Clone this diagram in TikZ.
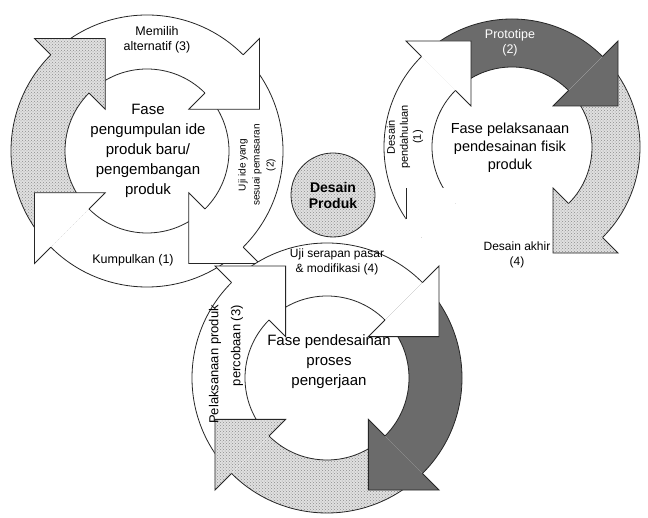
\documentclass[tikz,border=0pt]{standalone}
\usepackage{fontspec}
\setmainfont{Liberation Sans}
\usetikzlibrary{patterns}
\newcommand\segfill[3]{\fill[#3] (#1:\Ro) arc[start angle=#1,end angle=#2,radius=\Ro] -- (#2:\Ri) arc[start angle=#2,end angle=#1,radius=\Ri] -- cycle;}
\newcommand\segarcs[2]{\draw[ringline] (#1:\Ro) arc[start angle=#1,end angle=#2,radius=\Ro];\draw[ringline] (#1:\Ri) arc[start angle=#1,end angle=#2,radius=\Ri];}
\newcommand\tipcalc[1]{%
  \pgfmathsetmacro\Rm{(\Ro+\Ri)/2}%
  \pgfmathsetmacro\Bo{\Rm+\Hh}%
  \pgfmathsetmacro\Bi{\Rm-\Hh}%
  \pgfmathsetmacro\tx{\Rm*cos(#1)+\Hh*cos(#1-90)}%
  \pgfmathsetmacro\ty{\Rm*sin(#1)+\Hh*sin(#1-90)}%
  \coordinate (tip) at (\tx,\ty);}
\newcommand\seghead[2]{\tipcalc{#1}%
  \fill[#2] (#1:\Bo) -- (tip) -- (#1:\Bi) -- cycle;
  \draw[ringline] (#1:\Ro) -- (#1:\Bo) -- (tip) -- (#1:\Bi) -- (#1:\Ri);}
\begin{document}
\begin{tikzpicture}[x=1pt,y=1pt,
  ringline/.style={line width=0.8pt,black!85,line join=miter},
  whiteseg/.style={fill=white},
  darkseg/.style={fill=black!58},
  speckled/.style={preaction={fill=black!12},pattern=crosshatch dots,pattern color=black!45},
  lbl/.style={font=\fontsize{12.5}{15}\selectfont, align=center, inner sep=0pt},
  phase/.style={font=\fontsize{15}{20}\selectfont, align=center, inner sep=0pt}]
\useasboundingbox (0,0) rectangle (648,517);
\fill[white] (0,0) rectangle (648,517);

% ---------- cycle 1 ----------
\begin{scope}[shift={(147,366)}]
  \def\Ro{136}\def\Ri{82}\def\Hh{50}
  \segfill{135}{45}{whiteseg}
  \segfill{45}{-45}{whiteseg}
  \segfill{-45}{-135}{whiteseg}
  \segfill{225}{135}{speckled}
  \segarcs{135}{45}\segarcs{45}{-45}\segarcs{-45}{-135}\segarcs{225}{135}
  \seghead{45}{whiteseg}
  \seghead{-45}{whiteseg}
  \seghead{-135}{whiteseg}
  \seghead{135}{speckled}
\end{scope}

% ---------- cycle 2 ----------
\begin{scope}[shift={(512,370)}]
  \def\Ro{128}\def\Ri{80}\def\Hh{46}
  \segfill{135}{45}{darkseg}
  \segfill{45}{-45}{speckled}
  \segfill{225}{135}{whiteseg}
  \segarcs{135}{45}\segarcs{45}{-45}\segarcs{225}{135}
  \seghead{45}{darkseg}
  \seghead{-45}{speckled}
  \tipcalc{-135}
  \fill[white] (-135:\Bo) -- (tip) -- (-135:\Bi) -- cycle;
  \draw[ringline] (tip) -- ++(0,-31);
  \seghead{135}{whiteseg}
\end{scope}

% ---------- cycle 3 ----------
\begin{scope}[shift={(327,139)}]
  \def\Ro{135}\def\Ri{82}\def\Hh{50}
  \segfill{135}{45}{whiteseg}
  \segfill{45}{-45}{darkseg}
  \segfill{-45}{-135}{speckled}
  \segfill{225}{135}{whiteseg}
  \segarcs{135}{45}\segarcs{45}{-45}\segarcs{-45}{-135}\segarcs{225}{135}
  \seghead{45}{whiteseg}
  \seghead{-45}{darkseg}
  \seghead{-135}{speckled}
  \seghead{135}{whiteseg}
\end{scope}

% ---------- centre circle ----------
\node[circle, draw=black!85, line width=0.8pt, speckled, minimum size=84pt, inner sep=0pt] (pusat) at (333,322) {};
\node[font=\fontsize{14}{16}\selectfont\bfseries, align=center, inner sep=0pt] (pusatteks) at (pusat) {Desain\\Produk};

% ---------- labels cycle 1 ----------
\node[lbl] (memilih) at (157,477) {Memilih\\alternatif (3)};
\node[phase] (fase1) at (148,366) {Fase\\pengumpulan ide\\produk baru/\\pengembangan\\produk};
\node[lbl] (kumpul) at (133,257) {Kumpulkan (1)};
\node[lbl, font=\fontsize{10}{14}\selectfont, rotate=90] (ujiide) at (257,352) {Uji ide yang\\sesuai pemasaran\\(2)};

% ---------- labels cycle 2 ----------
\node[lbl, text=white] (proto) at (510,474) {Prototipe\\(2)};
\node[lbl, font=\fontsize{11}{13}\selectfont, rotate=90] (pendahuluan) at (405,380) {Desain\\pendahuluan\\(1)};
\node[phase, font=\fontsize{14.5}{18}\selectfont] (fase2) at (510,369) {Fase pelaksanaan\\pendesainan fisik\\produk};
\node[lbl, font=\fontsize{12}{15}\selectfont] (akhir) at (517,262) {Desain akhir\\(4)};

% ---------- labels cycle 3 ----------
\node[lbl, font=\fontsize{12}{15}\selectfont] (serapan) at (337,255) {Uji serapan pasar\\\& modifikasi (4)};
\node[lbl, font=\fontsize{13}{22}\selectfont, rotate=90, anchor=east, align=right] (percobaan) at (226,212) {Pelaksanaan produk\\percobaan (3)};
\node[phase] (fase3) at (329,155) {Fase pendesainan\\proses\\pengerjaan};
\end{tikzpicture}
\end{document}
